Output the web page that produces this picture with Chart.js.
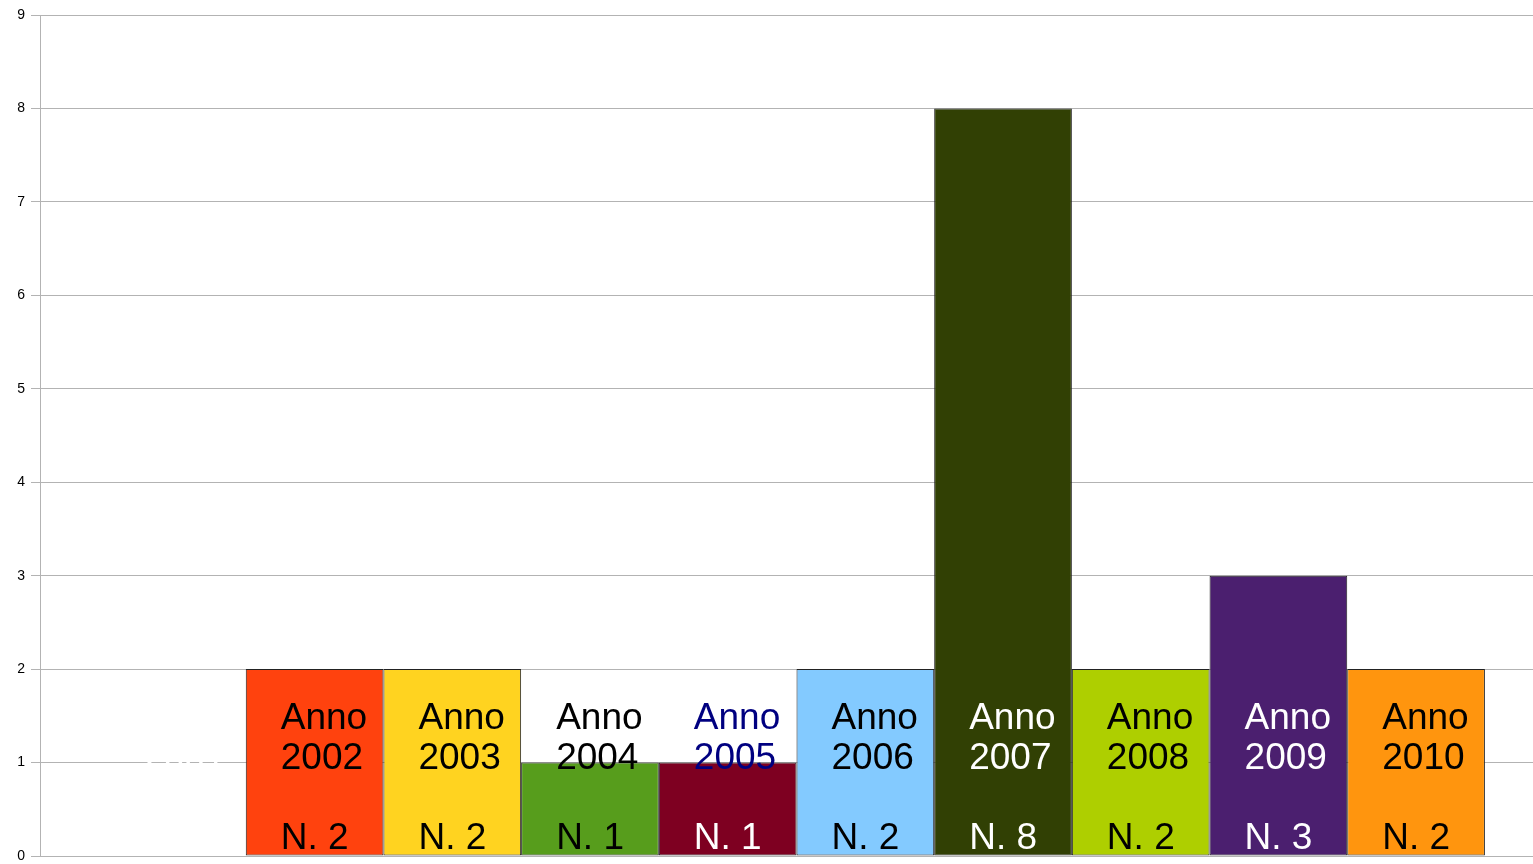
<!DOCTYPE html>
<html>
<head>
<meta charset="utf-8">
<script src="https://cdn.jsdelivr.net/npm/chart.js@4"></script>
<style>
  html, body { margin: 0; padding: 0; background: #fff; overflow: hidden; }
  #wrap { width: 1553px; height: 864px; position: relative; }
</style>
</head>
<body>
<div id="wrap"><canvas id="myChart"></canvas></div>
<script>
// one category, one dataset per year (LibreOffice style grouped bars)
const years = ['2001', '2002', '2003', '2004', '2005', '2006', '2007', '2008', '2009', '2010'];
const counts = [0, 2, 2, 1, 1, 2, 8, 2, 3, 2];
const barColors = ['#004586', '#ff420e', '#ffd320', '#579d1c', '#7e0021', '#83caff', '#314004', '#aecf00', '#4b1f6f', '#ff950e'];
const yearTextColors = ['#ffffff', '#000000', '#000000', '#000000', '#000080', '#000000', '#ffffff', '#000000', '#ffffff', '#000000'];
const countTextColors = ['#ffffff', '#000000', '#000000', '#000000', '#ffffff', '#000000', '#ffffff', '#000000', '#ffffff', '#000000'];
const yTicks = [0, 1, 2, 3, 4, 5, 6, 7, 8, 9];

// text inside each bar: "Anno / year" and "N. count", anchored to the baseline
const barText = {
    id: 'barText',
    afterDatasetsDraw(chart) {
        const ctx = chart.ctx;
        const bottom = chart.chartArea.bottom;
        ctx.save();
        ctx.font = '37px "Liberation Sans", Arial, sans-serif';
        ctx.textAlign = 'left';
        ctx.textBaseline = 'alphabetic';
        chart.data.datasets.forEach((ds, i) => {
            const bar = chart.getDatasetMeta(i).data[0];
            const left = bar.x - bar.width / 2 + 35;
            ctx.fillStyle = yearTextColors[i];
            ctx.fillText('Anno', left, bottom - 127);
            ctx.fillText(years[i], left, bottom - 87);
            ctx.fillStyle = countTextColors[i];
            ctx.fillText('N. ' + counts[i], left, bottom - 7);
        });
        ctx.restore();
    }
};

const ctx = document.getElementById('myChart').getContext('2d');
const myChart = new Chart(ctx, {
    type: 'bar',
    data: {
        labels: [''],
        datasets: years.map((y, i) => ({
            label: 'Anno ' + y,
            data: [counts[i]],
            backgroundColor: barColors[i],
            borderColor: '#222222',
            borderWidth: 1,
            borderSkipped: false
        }))
    },
    options: {
        responsive: true,
        maintainAspectRatio: false,
        animation: false,
        categoryPercentage: 0.91,
        barPercentage: 1,
        layout: { padding: { top: 15, bottom: 8, left: 0, right: 0 } },
        plugins: {
            legend: { display: false },
            tooltip: { enabled: false }
        },
        scales: {
            x: { display: false },
            y: {
                min: 0,
                max: 9,
                afterBuildTicks: scale => { scale.ticks = yTicks.map(v => ({ value: v })); },
                afterFit: scale => {
                    scale.width = 40;
                    scale.paddingTop = 0;
                    scale.paddingBottom = 0;
                },
                ticks: {
                    padding: 6,
                    color: '#000',
                    font: { family: '"Liberation Sans", Arial, sans-serif', size: 14 }
                },
                grid: {
                    color: '#b3b3b3',
                    lineWidth: 1,
                    tickLength: 9
                },
                border: { color: '#b3b3b3', width: 1 }
            }
        }
    },
    plugins: [barText]
});
</script>
</body>
</html>
